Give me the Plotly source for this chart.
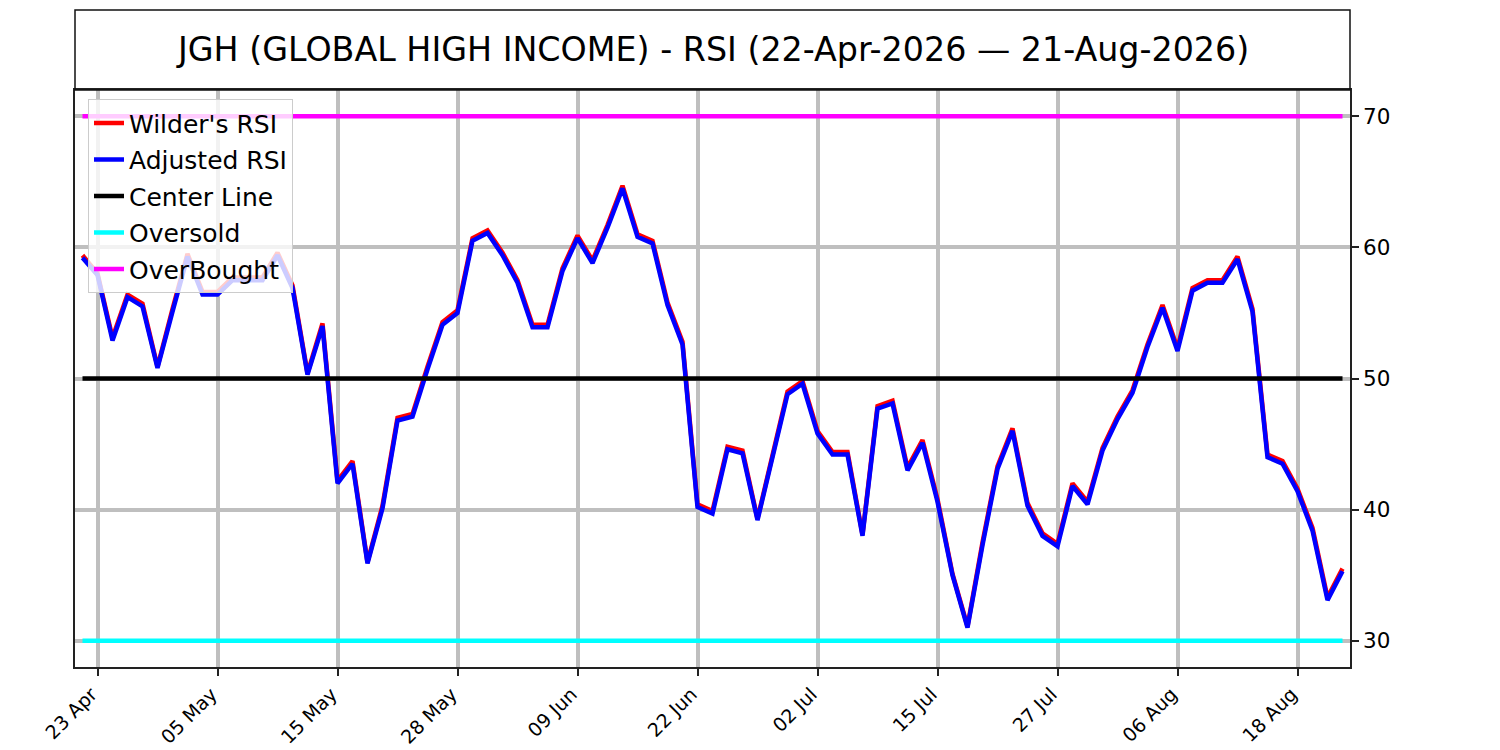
import plotly.graph_objects as go

# ---- data ----
dates = [
    "2026-04-22", "2026-04-23", "2026-04-24", "2026-04-27", "2026-04-28", "2026-04-29", "2026-04-30",
    "2026-05-01", "2026-05-04", "2026-05-05", "2026-05-06", "2026-05-07", "2026-05-08", "2026-05-11",
    "2026-05-12", "2026-05-13", "2026-05-14", "2026-05-15", "2026-05-18", "2026-05-19", "2026-05-20",
    "2026-05-21", "2026-05-22", "2026-05-26", "2026-05-27", "2026-05-28", "2026-05-29",
    "2026-06-01", "2026-06-02", "2026-06-03", "2026-06-04", "2026-06-05", "2026-06-08", "2026-06-09",
    "2026-06-10", "2026-06-11", "2026-06-12", "2026-06-15", "2026-06-16", "2026-06-17", "2026-06-18",
    "2026-06-22", "2026-06-23", "2026-06-24", "2026-06-25", "2026-06-26", "2026-06-29", "2026-06-30",
    "2026-07-01", "2026-07-02", "2026-07-06", "2026-07-07", "2026-07-08", "2026-07-09", "2026-07-10",
    "2026-07-13", "2026-07-14", "2026-07-15", "2026-07-16", "2026-07-17", "2026-07-20", "2026-07-21",
    "2026-07-22", "2026-07-23", "2026-07-24", "2026-07-27", "2026-07-28", "2026-07-29", "2026-07-30",
    "2026-07-31", "2026-08-03", "2026-08-04", "2026-08-05", "2026-08-06", "2026-08-07", "2026-08-10",
    "2026-08-11", "2026-08-12", "2026-08-13", "2026-08-14", "2026-08-17", "2026-08-18", "2026-08-19",
    "2026-08-20", "2026-08-21",
]

adjusted_rsi = [
    59.2, 57.9, 52.9, 56.2, 55.5, 50.8, 55.1, 59.3, 56.4, 56.4,
    57.5, 57.5, 57.5, 59.4, 56.9, 50.3, 54.0, 42.0, 43.5, 35.9,
    40.1, 46.8, 47.1, 50.7, 54.1, 55.0, 60.5, 61.1, 59.4, 57.3,
    53.9, 53.9, 58.2, 60.7, 58.8, 61.5, 64.5, 60.8, 60.3, 55.6,
    52.6, 40.2, 39.7, 44.6, 44.3, 39.2, 44.1, 48.8, 49.6, 45.8,
    44.2, 44.2, 38.0, 47.7, 48.1, 43.0, 45.1, 40.6, 35.0, 31.0,
    37.3, 43.1, 46.0, 40.3, 38.0, 37.2, 41.8, 40.4, 44.5, 46.9,
    48.9, 52.4, 55.4, 52.1, 56.7, 57.3, 57.3, 59.1, 55.1, 44.0,
    43.5, 41.4, 38.4, 33.1, 35.3,
]

wilders_rsi = [
    59.4, 58.0, 53.1, 56.4, 55.7, 50.9, 55.3, 59.5, 56.6, 56.6,
    57.7, 57.7, 57.7, 59.6, 57.1, 50.4, 54.2, 42.2, 43.7, 36.0,
    40.3, 47.0, 47.3, 50.9, 54.3, 55.2, 60.7, 61.3, 59.6, 57.5,
    54.1, 54.1, 58.4, 60.9, 59.0, 61.7, 64.7, 61.0, 60.5, 55.8,
    52.8, 40.4, 39.9, 44.8, 44.5, 39.3, 44.3, 49.0, 49.8, 46.0,
    44.4, 44.4, 38.1, 47.9, 48.3, 43.2, 45.3, 40.8, 35.1, 31.1,
    37.5, 43.3, 46.2, 40.5, 38.2, 37.4, 42.0, 40.6, 44.7, 47.1,
    49.1, 52.6, 55.6, 52.3, 56.9, 57.5, 57.5, 59.3, 55.3, 44.2,
    43.7, 41.6, 38.6, 33.3, 35.5,
]

center_level = 50
oversold_level = 30
overbought_level = 70

tick_dates = ["2026-04-23", "2026-05-05", "2026-05-15", "2026-05-28", "2026-06-09", "2026-06-22",
              "2026-07-02", "2026-07-15", "2026-07-27", "2026-08-06", "2026-08-18"]
tick_labels = ["23 Apr", "05 May", "15 May", "28 May", "09 Jun", "22 Jun",
               "02 Jul", "15 Jul", "27 Jul", "06 Aug", "18 Aug"]
y_ticks = [30, 40, 50, 60, 70]

title_text = "JGH (GLOBAL HIGH INCOME) - RSI (22-Apr-2026 \u2014 21-Aug-2026)"

# ---- figure ----
FONT = "DejaVu Sans"
fig = go.Figure()
fig.add_trace(go.Scatter(x=dates, y=wilders_rsi, mode="lines", name="Wilder's RSI", legendgroup="g1",
                         line=dict(color="#ff0000", width=4.5)))
fig.add_trace(go.Scatter(x=dates, y=adjusted_rsi, mode="lines", name="Adjusted RSI", legendgroup="g2",
                         line=dict(color="#0000ff", width=4.5)))
fig.add_trace(go.Scatter(x=[dates[0], dates[-1]], y=[center_level, center_level], mode="lines",
                         name="Center Line", legendgroup="g3", line=dict(color="#000000", width=4.5)))
fig.add_trace(go.Scatter(x=[dates[0], dates[-1]], y=[oversold_level, oversold_level], mode="lines",
                         name="Oversold", legendgroup="g4", line=dict(color="#00ffff", width=4.5)))
fig.add_trace(go.Scatter(x=[dates[0], dates[-1]], y=[overbought_level, overbought_level], mode="lines",
                         name="OverBought", legendgroup="g5", line=dict(color="#ff00ff", width=4.5)))

plot_h = 750 - 90 - 83
fig.update_layout(
    width=1500, height=750,
    margin=dict(l=75, r=150, t=90, b=83),
    paper_bgcolor="white", plot_bgcolor="white",
    font=dict(family=FONT, color="black", size=17),
    showlegend=True,
    legend=dict(x=0.0102, y=0.984, xanchor="left", yanchor="top",
                bgcolor="rgba(255,255,255,0.8)", bordercolor="#cccccc", borderwidth=1,
                font=dict(family=FONT, size=25, color="black"), itemwidth=30,
                tracegroupgap=1),
    xaxis=dict(type="category", categoryorder="array", categoryarray=dates,
               range=[-0.5, len(dates) - 0.5], automargin=False,
               tickmode="array", tickvals=tick_dates, ticktext=tick_labels, tickangle=-45,
               ticklabelshift=-6,
               showgrid=True, gridcolor="#bfbfbf", gridwidth=4,
               showline=True, linecolor="#222222", linewidth=1.5, mirror=True,
               ticks="outside", ticklen=7, tickwidth=1.5, tickcolor="#222222",
               tickfont=dict(family=FONT, size=19, color="black"), zeroline=False),
    yaxis=dict(range=[28, 72], side="right", tickmode="array", tickvals=y_ticks, automargin=False,
               showgrid=True, gridcolor="#bfbfbf", gridwidth=4,
               showline=True, linecolor="#222222", linewidth=1.5, mirror=True,
               ticks="outside", ticklen=7, tickwidth=1.5, tickcolor="#222222",
               tickfont=dict(family=FONT, size=21.5, color="black"), zeroline=False),
    shapes=[dict(type="rect", xref="paper", yref="paper", x0=0, x1=1, y0=1, y1=1 + 80 / plot_h,
                 line=dict(color="#111111", width=1.5), fillcolor="rgba(0,0,0,0)", layer="above")],
    annotations=[dict(text=title_text, xref="paper", yref="paper", x=0.5, y=1 + 40 / plot_h,
                      xanchor="center", yanchor="middle", showarrow=False,
                      font=dict(family=FONT, size=33.3, color="black"))],
)

fig.write_html("out.html", include_plotlyjs=True, config={"displayModeBar": False},
               post_script="document.body.style.margin='0';document.body.style.overflow='hidden';")
